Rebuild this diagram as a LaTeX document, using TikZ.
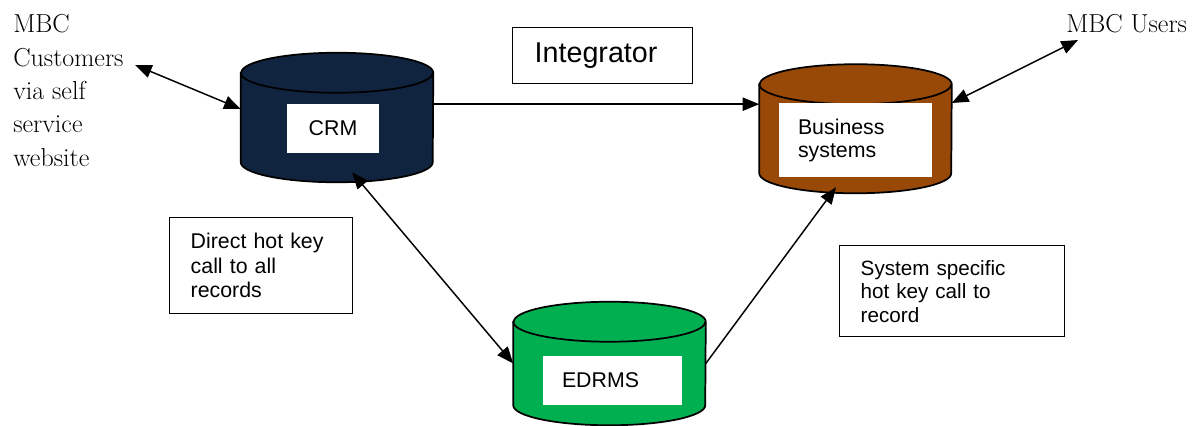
\documentclass[tikz,border=0pt]{standalone}
\usepackage{fontspec}
\newfontfamily\labelsans{Liberation Sans}
\usetikzlibrary{arrows.meta}

\definecolor{crmnavy}{RGB}{16,36,63}
\definecolor{busbrown}{RGB}{152,72,7}
\definecolor{edgreen}{RGB}{0,176,80}

% Database drum drawn around a named body node (#1), filled with colour #2
\newcommand\drawdrum[2]{%
  \filldraw[fill=#2, line width=1.3pt]
    (#1.north west) -- (#1.south west)
    arc[start angle=180, end angle=360, x radius=72pt, y radius=15pt]
    -- (#1.north east)
    arc[start angle=0, end angle=180, x radius=72pt, y radius=15pt] -- cycle;
  \draw[line width=1.3pt] (#1.north west)
    arc[start angle=180, end angle=360, x radius=72pt, y radius=15pt];
}

\begin{document}
\begin{tikzpicture}[x=0.75pt, y=-0.75pt,
  drum/.style={rectangle, inner sep=0pt, minimum width=144pt},
  tag/.style={fill=white, inner ysep=0pt, align=left,
    font=\labelsans\fontsize{16pt}{17.25pt}\selectfont},
  note/.style={draw, line width=1.1pt, inner ysep=0pt, align=left, anchor=north west},
  people/.style={inner sep=0pt, align=left, font=\fontsize{19.5pt}{25pt}\selectfont},
  tipA/.tip={Triangle[length=12.5pt, width=10pt]},
  link/.style={line width=1.1pt, -tipA},
  both/.style={line width=1.1pt, tipA-tipA}]

\useasboundingbox (0,0) rectangle (1202,425);

% database bodies
\node[drum, minimum height=66.75pt] (crm) at (337,117.5) {};
\drawdrum{crm}{crmnavy}
\node[drum, minimum height=66.4pt] (bus) at (855.5,128.75) {};
\drawdrum{bus}{busbrown}
\node[drum, minimum height=62.25pt] (edrms) at (609.5,363.5) {};
\drawdrum{edrms}{edgreen}

% labels on the drums
\node[tag, inner xsep=0pt, align=center, minimum width=69pt, minimum height=36.75pt]
  (crmlabel) at (333,128.5) {CRM};
\node[tag, inner xsep=14.25pt, text width=86.25pt, minimum height=55.5pt]
  (buslabel) at (855.5,140) {Business\\systems};
\node[tag, inner xsep=14.25pt, text width=75.75pt, minimum height=36.75pt]
  (edrmslabel) at (612.5,380.5) {EDRMS};

% text boxes
\node[note, inner xsep=16.5pt, text width=102pt, minimum height=42pt,
  font=\labelsans\fontsize{21.5pt}{24pt}\selectfont]
  (integrator) at (512,27) {Integrator};
\node[note, inner xsep=15.75pt, text width=105.75pt, minimum height=72pt,
  font=\labelsans\fontsize{16pt}{18.4pt}\selectfont]
  (direct) at (169,217) {Direct hot key\\call to all\\records};
\node[note, inner xsep=15.75pt, text width=137.25pt, minimum height=68.25pt,
  font=\labelsans\fontsize{15.5pt}{17.6pt}\selectfont]
  (specific) at (839,245) {System specific\\hot key call to\\record};

% actors
\node[people, anchor=north west] (customers) at (13,14.5)
  {MBC\\Customers\\via self\\service\\website};
\node[people, anchor=base west] (users) at (1066,32) {MBC Users};
\coordinate (custend) at (135,65);
\coordinate (userend) at (1078,40);

% connectors
\draw[both] (custend) -- ([yshift=6.4pt]crm.west);
\draw[link] ([yshift=10pt]crm.east) -- ([yshift=10pt]crm.east -| bus.west);
\draw[both] ([yshift=19.3pt]bus.east) -- (userend);
\draw[both] ([xshift=11.25pt, yshift=-7.5pt]crm.south) -- (edrms.west);
\draw[link] (edrms.east) -- ([xshift=-14.6pt, yshift=-10.5pt]bus.south);

\end{tikzpicture}
\end{document}
